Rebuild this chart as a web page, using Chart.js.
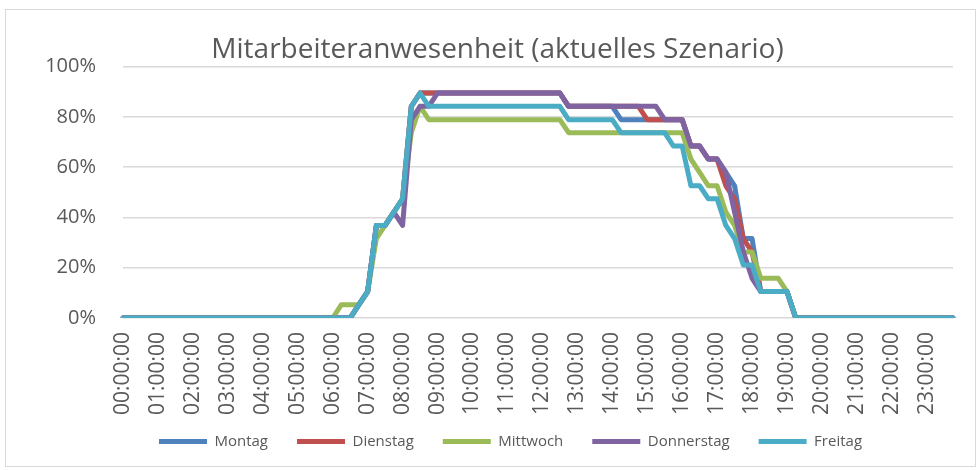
<!DOCTYPE html>
<html>
<head>
<meta charset="utf-8">
<script src="https://cdn.jsdelivr.net/npm/chart.js@4.4.1/dist/chart.umd.min.js"></script>
<style>
	html, body { margin: 0; padding: 0; background: #fff; }
	#chart_frame { position: absolute; left: 5px; top: 9px; width: 969px; height: 456px; border: 1px solid #d9d9d9; }
	#chart_box { position: absolute; left: 0; top: 0; width: 979px; height: 470px; }
</style>
</head>
<body>
<div id="chart_frame"></div>
<div id="chart_box"><canvas id="attendance_canvas"></canvas></div>
<script>
// 15 minute slots, 00:00:00 .. 23:45:00
var times = [];
for (var h = 0; h < 24; h++) {
	for (var m = 0; m < 60; m += 15) {
		times.push((h < 10 ? '0' : '') + h + ':' + (m < 10 ? '0' : '') + m + ':00');
	}
}

var y_ticks = [0, 20, 40, 60, 80, 100];

// anwesend in %, 4 Werte je Stunde
var montag = [
	0, 0, 0, 0,   0, 0, 0, 0,   0, 0, 0, 0,   0, 0, 0, 0,   0, 0, 0, 0,   0, 0, 0, 0,
	0, 0, 0, 5.3,   10.5, 36.8, 36.8, 42.1,   47.4, 84.2, 89.5, 89.5,
	89.5, 89.5, 89.5, 89.5,   89.5, 89.5, 89.5, 89.5,   89.5, 89.5, 89.5, 89.5,
	89.5, 89.5, 89.5, 84.2,   84.2, 84.2, 84.2, 84.2,   84.2, 78.9, 78.9, 78.9,
	78.9, 78.9, 78.9, 78.9,   78.9, 68.4, 68.4, 63.2,   63.2, 57.9, 52.6, 31.6,
	31.6, 10.5, 10.5, 10.5,   10.5, 0, 0, 0,
	0, 0, 0, 0,   0, 0, 0, 0,   0, 0, 0, 0,   0, 0, 0, 0
];
var dienstag = [
	0, 0, 0, 0,   0, 0, 0, 0,   0, 0, 0, 0,   0, 0, 0, 0,   0, 0, 0, 0,   0, 0, 0, 0,
	0, 0, 0, 5.3,   10.5, 36.8, 36.8, 42.1,   47.4, 84.2, 89.5, 89.5,
	89.5, 89.5, 89.5, 89.5,   89.5, 89.5, 89.5, 89.5,   89.5, 89.5, 89.5, 89.5,
	89.5, 89.5, 89.5, 84.2,   84.2, 84.2, 84.2, 84.2,   84.2, 84.2, 84.2, 84.2,
	78.9, 78.9, 78.9, 78.9,   78.9, 68.4, 68.4, 63.2,   63.2, 52.6, 47.4, 31.6,
	26.3, 10.5, 10.5, 10.5,   10.5, 0, 0, 0,
	0, 0, 0, 0,   0, 0, 0, 0,   0, 0, 0, 0,   0, 0, 0, 0
];
var mittwoch = [
	0, 0, 0, 0,   0, 0, 0, 0,   0, 0, 0, 0,   0, 0, 0, 0,   0, 0, 0, 0,   0, 0, 0, 0,
	0, 5.3, 5.3, 5.3,   10.5, 31.6, 36.8, 42.1,   47.4, 73.7, 84.2, 78.9,
	78.9, 78.9, 78.9, 78.9,   78.9, 78.9, 78.9, 78.9,   78.9, 78.9, 78.9, 78.9,
	78.9, 78.9, 78.9, 73.7,   73.7, 73.7, 73.7, 73.7,   73.7, 73.7, 73.7, 73.7,
	73.7, 73.7, 73.7, 73.7,   73.7, 63.2, 57.9, 52.6,   52.6, 42.1, 36.8, 26.3,
	26.3, 15.8, 15.8, 15.8,   10.5, 0, 0, 0,
	0, 0, 0, 0,   0, 0, 0, 0,   0, 0, 0, 0,   0, 0, 0, 0
];
var donnerstag = [
	0, 0, 0, 0,   0, 0, 0, 0,   0, 0, 0, 0,   0, 0, 0, 0,   0, 0, 0, 0,   0, 0, 0, 0,
	0, 0, 0, 5.3,   10.5, 36.8, 36.8, 42.1,   36.8, 78.9, 84.2, 84.2,
	89.5, 89.5, 89.5, 89.5,   89.5, 89.5, 89.5, 89.5,   89.5, 89.5, 89.5, 89.5,
	89.5, 89.5, 89.5, 84.2,   84.2, 84.2, 84.2, 84.2,   84.2, 84.2, 84.2, 84.2,
	84.2, 84.2, 78.9, 78.9,   78.9, 68.4, 68.4, 63.2,   63.2, 57.9, 42.1, 26.3,
	15.8, 10.5, 10.5, 10.5,   10.5, 0, 0, 0,
	0, 0, 0, 0,   0, 0, 0, 0,   0, 0, 0, 0,   0, 0, 0, 0
];
var freitag = [
	0, 0, 0, 0,   0, 0, 0, 0,   0, 0, 0, 0,   0, 0, 0, 0,   0, 0, 0, 0,   0, 0, 0, 0,
	0, 0, 0, 5.3,   10.5, 36.8, 36.8, 42.1,   47.4, 84.2, 89.5, 84.2,
	84.2, 84.2, 84.2, 84.2,   84.2, 84.2, 84.2, 84.2,   84.2, 84.2, 84.2, 84.2,
	84.2, 84.2, 84.2, 78.9,   78.9, 78.9, 78.9, 78.9,   78.9, 73.7, 73.7, 73.7,
	73.7, 73.7, 73.7, 68.4,   68.4, 52.6, 52.6, 47.4,   47.4, 36.8, 31.6, 21.1,
	21.1, 10.5, 10.5, 10.5,   10.5, 0, 0, 0,
	0, 0, 0, 0,   0, 0, 0, 0,   0, 0, 0, 0,   0, 0, 0, 0
];

var text_color = '#595959';
var font_family = "'Open Sans', 'Noto Sans', sans-serif";

function line_dataset(label, data, color){
	return {
		label: label,
		data: data,
		borderColor: color,
		backgroundColor: color,
		borderWidth: 5,
		borderCapStyle: 'round',
		borderJoinStyle: 'round',
		pointRadius: 0,
		pointHoverRadius: 0,
		tension: 0,
		fill: false
	};
}

// Legende etwas nach rechts / oben schieben
var shift_legend = {
	id: 'shift_legend',
	afterLayout: function(chart){
		if (chart.legend) {
			chart.legend.left += 13;
			chart.legend.right += 13;
			chart.legend.top -= 10;
			chart.legend.bottom -= 10;
		}
	}
};

var attendance_canvas = document.getElementById('attendance_canvas');
var attendance_chart = new Chart(attendance_canvas, {
	type: 'line',
	data: {
		labels: times,
		datasets: [
			line_dataset('Montag', montag, '#4f81bd'),
			line_dataset('Dienstag', dienstag, '#c0504d'),
			line_dataset('Mittwoch', mittwoch, '#9bbb59'),
			line_dataset('Donnerstag', donnerstag, '#8064a2'),
			line_dataset('Freitag', freitag, '#4bacc6')
		].reverse()
	},
	options: {
		animation: false,
		responsive: true,
		maintainAspectRatio: false,
		layout: { padding: { left: 42, right: 26, top: 0, bottom: 1 } },
		plugins: {
			title: {
				display: true,
				text: 'Mitarbeiteranwesenheit (aktuelles Szenario)',
				color: text_color,
				font: { family: font_family, size: 28, weight: 'normal' },
				padding: { top: 33, bottom: 0 }
			},
			legend: {
				position: 'bottom',
				reverse: true,
				labels: {
					usePointStyle: true,
					pointStyle: 'line',
					pointStyleWidth: 48,
					color: text_color,
					font: { family: font_family, size: 15 },
					padding: 29
				}
			},
			tooltip: { enabled: false }
		},
		scales: {
			x: {
				grid: { display: false, drawTicks: false },
				border: { display: false },
				ticks: {
					autoSkip: false,
					minRotation: 90,
					maxRotation: 90,
					padding: 14,
					color: text_color,
					font: { family: font_family, size: 21 },
					callback: function(value, index){
						return index % 4 === 0 ? times[index] : '';
					}
				},
				afterFit: function(scale){
					scale.height = 97;
					scale.paddingLeft = 0;
					scale.paddingRight = 0;
				}
			},
			y: {
				min: 0,
				max: 100,
				afterBuildTicks: function(scale){
					scale.ticks = y_ticks.map(function(v){ return { value: v }; });
				},
				ticks: {
					padding: 27,
					color: text_color,
					font: { family: font_family, size: 20 },
					callback: function(value){ return value + '%'; }
				},
				grid: { color: '#d9d9d9', lineWidth: 1.5, drawTicks: false },
				border: { display: false },
				afterFit: function(scale){ scale.width = 81; }
			}
		}
	},
	plugins: [shift_legend]
});
</script>
</body>
</html>
